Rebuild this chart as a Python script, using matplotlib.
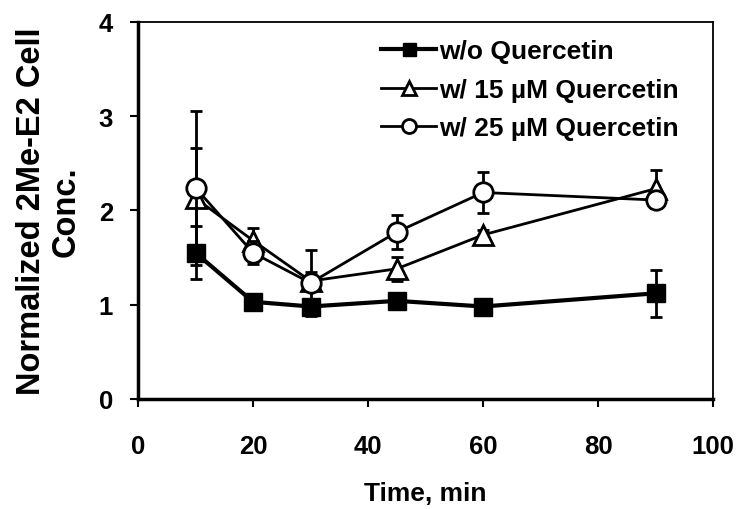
import matplotlib
matplotlib.use('Agg')
import matplotlib.pyplot as plt
import numpy as np

plt.rcParams['font.family'] = ['Liberation Sans', 'DejaVu Sans']
plt.rcParams['font.weight'] = 'bold'

# data
t = [10, 20, 30, 45, 60, 90]
wo = [1.55, 1.03, 0.98, 1.04, 0.98, 1.12]
wo_err = [0.28, 0.05, 0.05, 0.08, 0.05, 0.25]
q15 = [2.13, 1.68, 1.25, 1.38, 1.74, 2.23]
q15_err = [0.53, 0.13, 0.1, 0.13, 0.05, 0.2]
q25 = [2.24, 1.55, 1.23, 1.77, 2.19, 2.11]
q25_err = [0.82, 0.12, 0.35, 0.18, 0.22, 0.08]

labels = ['w/o Quercetin', 'w/ 15 \u00b5M Quercetin', 'w/ 25 \u00b5M Quercetin']

fig = plt.figure(figsize=(7.42, 5.1), dpi=100)
ax = fig.add_axes([0.186, 0.216, 0.775, 0.739])

h2 = ax.errorbar(t, q15, yerr=q15_err, color='black', marker='^', ms=14,
                 mfc='white', mec='black', mew=2, lw=2, capsize=4, capthick=2,
                 elinewidth=2, label=labels[1], zorder=2)
h3 = ax.errorbar(t, q25, yerr=q25_err, color='black', marker='o', ms=14,
                 mfc='white', mec='black', mew=2, lw=2, capsize=4, capthick=2,
                 elinewidth=2, label=labels[2], zorder=3)
h1 = ax.errorbar(t, wo, yerr=wo_err, color='black', marker='s', ms=13,
                 mfc='black', mec='black', lw=3, capsize=4, capthick=2,
                 elinewidth=2, label=labels[0], zorder=4)

ax.set_xlim(0, 100)
ax.set_ylim(0, 4)
ax.set_xticks([0, 20, 40, 60, 80, 100])
ax.set_yticks([0, 1, 2, 3, 4])
ax.tick_params(direction='out', length=6, width=1.5, labelsize=18.5)
ax.tick_params(axis='x', pad=19)
ax.tick_params(axis='y', pad=12)
for lab in ax.get_xticklabels() + ax.get_yticklabels():
    lab.set_fontweight('bold')
ax.spines['left'].set_linewidth(2.5)
ax.spines['bottom'].set_linewidth(2.5)
ax.spines['top'].set_linewidth(1.3)
ax.spines['right'].set_linewidth(1.3)

ax.set_xlabel('Time, min', fontsize=19, fontweight='bold', labelpad=17)
ax.set_ylabel('Normalized 2Me-E2 Cell\nConc.', fontsize=23.5, fontweight='bold',
              labelpad=12, linespacing=1.15)

leg = ax.legend([h1[0], h2[0], h3[0]], labels, loc='upper left',
                bbox_to_anchor=(0.381, 1.017), frameon=False,
                handlelength=2.1, handletextpad=0.1, labelspacing=0.55,
                markerscale=0.72, prop={'weight': 'bold', 'size': 19})

fig.savefig('out.png', dpi=100)
